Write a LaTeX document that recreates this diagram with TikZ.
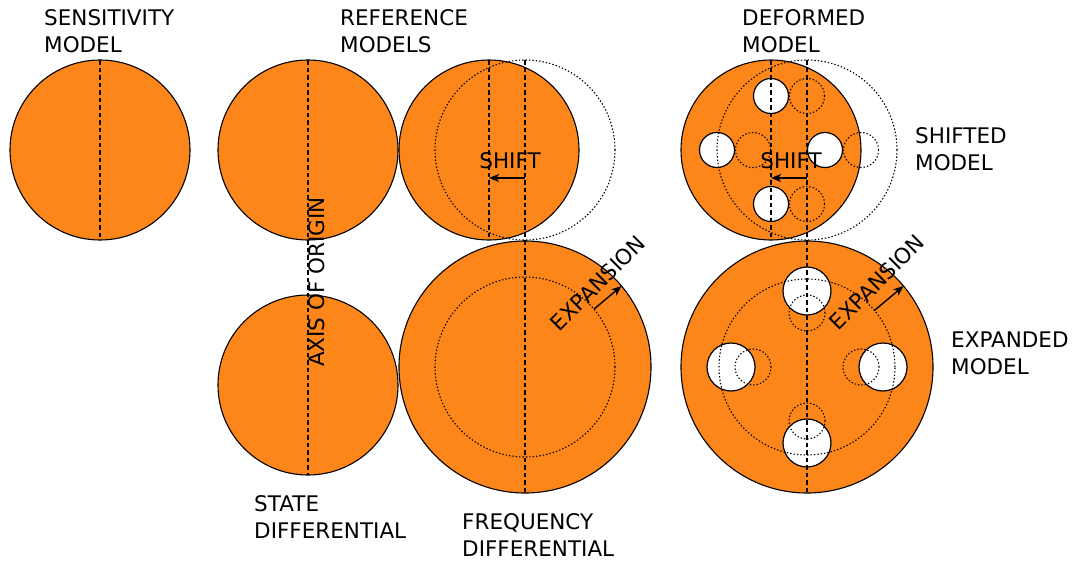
\documentclass[tikz,border=0pt]{standalone}
\usepackage{fontspec}
\setmainfont{DejaVu Sans}
\usetikzlibrary{arrows.meta}
\definecolor{disc}{RGB}{252,134,26}
\begin{document}
\begin{tikzpicture}[x=1pt,y=-1pt,
  disk/.style={circle,draw=black,line width=1.1pt,fill=disc,inner sep=0pt,outer sep=0pt},
  ghost/.style={circle,draw=black,line width=1.1pt,dash pattern=on 1.4pt off 2pt,inner sep=0pt,outer sep=0pt},
  hole/.style={circle,draw=black,line width=1.2pt,fill=white,inner sep=0pt,outer sep=0pt},
  axisline/.style={draw=black,line width=2pt,dash pattern=on 4.5pt off 3pt},
  arr/.style={draw=black,line width=1.4pt,-{Stealth[length=10pt,width=8pt,inset=2.5pt]}},
  lbl/.style={font=\fontsize{21.5}{27}\selectfont,align=left,inner sep=0pt,anchor=north west},
  word/.style={font=\fontsize{21.5}{27}\selectfont,inner sep=0pt}]
\useasboundingbox (0,0) rectangle (1075,560);

% ---- discs
\node[disk,minimum size=180pt] (sens)   at (100,150) {};
\node[disk,minimum size=180pt] (refA)   at (308,150) {};
\node[disk,minimum size=180pt] (state)  at (308,385) {};
\node[disk,minimum size=180pt] (refB)   at (489,150) {};
\node[disk,minimum size=252pt] (freq)   at (525,367) {};
\node[disk,minimum size=180pt] (deform) at (771,150) {};
\node[disk,minimum size=252pt] (expand) at (807,367) {};

% ---- holes
\node[hole,minimum size=35pt] (dh1) at (771,96) {};
\node[hole,minimum size=35pt] (dh2) at (717,150) {};
\node[hole,minimum size=35pt] (dh3) at (825,150) {};
\node[hole,minimum size=35pt] (dh4) at (771,204) {};
\node[hole,minimum size=48pt] (eh1) at (807,291) {};
\node[hole,minimum size=48pt] (eh2) at (731,367) {};
\node[hole,minimum size=48pt] (eh3) at (883,367) {};
\node[hole,minimum size=48pt] (eh4) at (807,443) {};

% ---- dotted outlines
\node[ghost,minimum size=180pt] (refBg)   at (525,150) {};
\node[ghost,minimum size=180pt] (freqin)  at (525,367) {};
\node[ghost,minimum size=180pt] (deformg) at (807,150) {};
\node[ghost,minimum size=35pt] (dg1) at (807,96) {};
\node[ghost,minimum size=35pt] (dg2) at (753,150) {};
\node[ghost,minimum size=35pt] (dg3) at (861,150) {};
\node[ghost,minimum size=35pt] (dg4) at (807,204) {};
\node[ghost,minimum size=176pt] (expandin) at (807,367) {};
\node[ghost,minimum size=36pt] (eg1) at (807,313) {};
\node[ghost,minimum size=36pt] (eg2) at (753,367) {};
\node[ghost,minimum size=36pt] (eg3) at (861,367) {};
\node[ghost,minimum size=36pt] (eg4) at (807,421) {};

% ---- axes
\draw[axisline] (sens.north) -- (sens.south);
\draw[axisline] (refA.north) -- (state.south);
\draw[axisline] (refB.north) -- (refB.south);
\draw[axisline] (refBg.north) -- (freq.south);
\draw[axisline] (deform.north) -- (deform.south);
\draw[axisline] (deformg.north) -- (expand.south);

% ---- arrows
\draw[arr] ([yshift=-28pt]refBg.center) -- ([yshift=-28pt]refB.center);
\draw[arr] ([yshift=-28pt]deformg.center) -- ([yshift=-28pt]deform.center);
\draw[arr] (freqin.40) -- (freq.40);
\draw[arr] (expandin.40) -- (expand.40);

% ---- words on the picture
\node[word] (shiftA) at (510,161) {SHIFT};
\node[word] (shiftB) at (791,161) {SHIFT};
\node[word,rotate=45] (expA) at (598,283) {EXPANSION};
\node[word,rotate=45] (expB) at (877,282) {EXPANSION};
\node[word,rotate=90] (axis) at (317,282) {AXIS OF ORIGIN};

% ---- labels
\node[lbl] (lsens)  at (44,9)    {SENSITIVITY\\MODEL};
\node[lbl] (lref)   at (340,9)   {REFERENCE\\MODELS};
\node[lbl] (ldef)   at (742,9)   {DEFORMED\\MODEL};
\node[lbl] (lshift) at (915,127) {SHIFTED\\MODEL};
\node[lbl] (lexp)   at (951,332) {EXPANDED\\MODEL};
\node[lbl] (lstate) at (254,495) {STATE\\DIFFERENTIAL};
\node[lbl] (lfreq)  at (462,513) {FREQUENCY\\DIFFERENTIAL};
\end{tikzpicture}
\end{document}
